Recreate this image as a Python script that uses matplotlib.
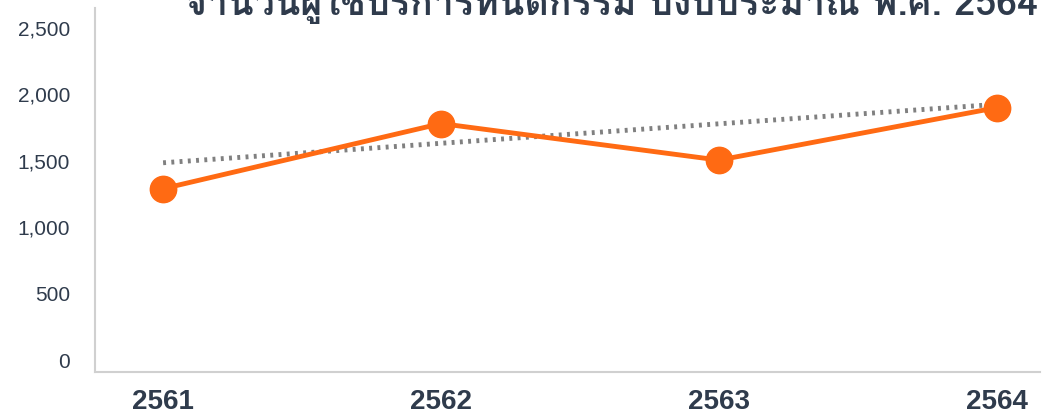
import matplotlib
matplotlib.use("Agg")
import matplotlib.pyplot as plt
from matplotlib import font_manager
from matplotlib.ft2font import FT2Font

years = ["2561", "2562", "2563", "2564"]
values = [1290, 1780, 1505, 1900]
trend = [1485, 1925]
y_ticks = [0, 500, 1000, 1500, 2000, 2500]
title = "จำนวนผู้ใช้บริการทันตกรรม ปีงบประมาณ พ.ศ. 2564"

# find any installed font that has Thai glyphs
thai_font = None
for f in font_manager.fontManager.ttflist:
    try:
        if FT2Font(f.fname).get_char_index(0x0E01):
            thai_font = f.name
            break
    except Exception:
        pass

orange = "#ff6a13"
text_col = "#2f3b4c"

fig = plt.figure(figsize=(10.45, 4.16), dpi=100)
ax = fig.add_axes([95 / 1045, 1 - 372 / 416, 945 / 1045, 364 / 416])

x = list(range(len(years)))
ax.plot([x[0], x[-1]], trend, color="#808080", lw=3.5, ls=(0, (0.6, 1.1)),
        dash_capstyle="butt", zorder=2)
ax.plot(x, values, color=orange, lw=3.5, marker="o", ms=19,
        markerfacecolor=orange, markeredgecolor=orange, zorder=3)

ax.set_xlim(-0.245, 3.155)
ax.set_ylim(-90, 2650)
ax.set_yticks(y_ticks)
ax.set_yticklabels([f"{v:,}" for v in y_ticks], fontsize=15,
                   color=text_col, family=["Liberation Sans", "DejaVu Sans"])
ax.set_xticks(x)
ax.set_xticklabels(years, fontsize=20, fontweight="bold", color=text_col,
                   family=["Liberation Sans Narrow", "Liberation Sans"])
ax.tick_params(axis="y", length=0, pad=18)
ax.tick_params(axis="x", length=0, pad=12)

for side in ["top", "right"]:
    ax.spines[side].set_visible(False)
for side in ["left", "bottom"]:
    ax.spines[side].set_color("#d0d0d0")
    ax.spines[side].set_linewidth(1.5)

fams = [thai_font, "DejaVu Sans"] if thai_font else ["DejaVu Sans"]
fig.text(1038 / 1045, 1 - 15 / 416, title, ha="right", va="baseline",
         fontsize=27, fontweight="bold", color=text_col, family=fams)

fig.savefig("out.png", dpi=100)
